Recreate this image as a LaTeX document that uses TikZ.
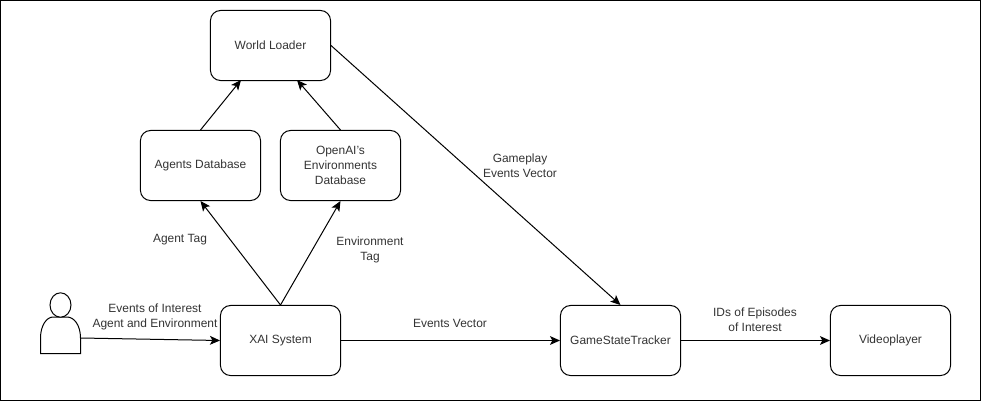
\documentclass[tikz,border=0pt]{standalone}
\usepackage{fontspec}
\setmainfont{Liberation Sans}
\usetikzlibrary{arrows.meta}
\tikzset{
    block/.style={draw=black, line width=0.025cm, rounded corners=0.25cm, minimum width=3cm, minimum height=1.75cm, align=center, font=\fontsize{8.5pt}{10.6pt}\selectfont, text=black!80},
    tag/.style={align=center, inner sep=0pt, font=\fontsize{8.5pt}{10.6pt}\selectfont, text=black!80},
    link/.style={-{Stealth[length=0.25cm,width=0.22cm,inset=0.06cm]}, line width=0.025cm, black}
}

\begin{document}
\begin{tikzpicture}[x=0.025cm,y=-0.025cm]
    \useasboundingbox (0,0) rectangle (981,401);
    \draw[line width=0.025cm] (0.5,0.5) rectangle (980.5,400.5);
    % boxes
    \node[block] (world) at (270.5,45.5) {World Loader};
    \node[block] (agents) at (200.5,165.5) {Agents Database};
    \node[block] (envs) at (340.5,165.5) {OpenAI's\\Environments\\Database};
    \node[block] (xai) at (280.5,340.5) {XAI System};
    \node[block] (tracker) at (620.5,340.5) {GameStateTracker};
    \node[block] (video) at (890.5,340.5) {Videoplayer};
    % user
    \draw[line width=0.025cm, fill=white] (40.5,353.5) -- (40.5,338) .. controls (40.5,325) and (47,317) .. (53,317) -- (67,317) .. controls (74,317) and (80.5,325) .. (80.5,338) -- (80.5,353.5) -- cycle;
    \draw[line width=0.025cm, fill=white] (60.5,305) ellipse (10.5 and 12.2);
    \coordinate (user) at (80.5,338);
    \coordinate (worldleft) at (241,80);
    \coordinate (worldright) at (297,80);
    % arrows
    \draw[link] (agents.north) -- (worldleft);
    \draw[link] (envs.north) -- (worldright);
    \draw[link] (xai.north) -- (agents.south);
    \draw[link] (xai.north) -- (envs.south);
    \draw[link] (user) -- (xai.west);
    \draw[link] (xai.east) -- (tracker.west);
    \draw[link] (tracker.east) -- (video.west);
    \draw[link] (world.east) -- (tracker.north);
    % labels
    \node[tag] (interest) at (155,317) {Events of Interest\\Agent and Environment};
    \node[tag] (agenttag) at (180,240) {Agent Tag};
    \node[tag] (envtag) at (370,250) {Environment\\Tag};
    \node[tag] (gameplay) at (520,166) {Gameplay\\Events Vector};
    \node[tag] (vector) at (450,323) {Events Vector};
    \node[tag] (episodes) at (755,320) {IDs of Episodes\\of Interest};
\end{tikzpicture}
\end{document}
